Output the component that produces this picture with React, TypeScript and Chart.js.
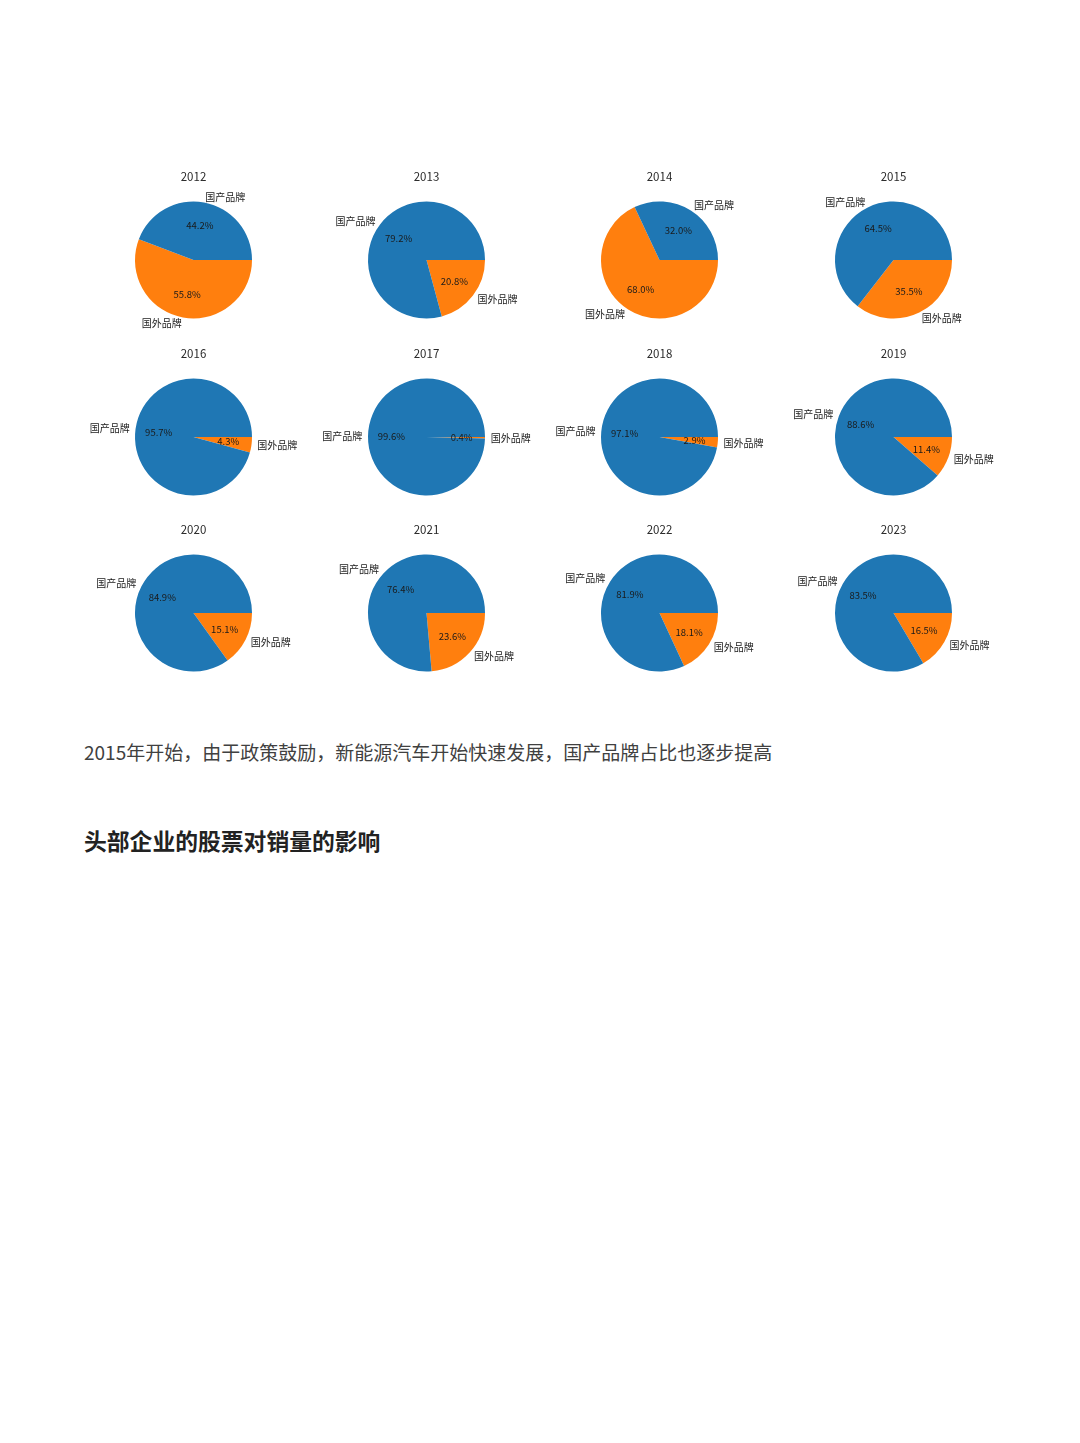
import { Chart, registerables, Plugin } from "chart.js";
import { useEffect, useRef } from "react";

Chart.register(...registerables);

// 国产品牌 / 国外品牌 share per year (%)
const years = ["2012", "2013", "2014", "2015", "2016", "2017", "2018", "2019", "2020", "2021", "2022", "2023"];
const domestic = [44.2, 79.2, 32.0, 64.5, 95.7, 99.6, 97.1, 88.6, 84.9, 76.4, 81.9, 83.5];
const foreign = [55.8, 20.8, 68.0, 35.5, 4.3, 0.4, 2.9, 11.4, 15.1, 23.6, 18.1, 16.5];
const sliceLabels = ["国外品牌", "国产品牌"];

const BLUE = "#1f77b4";
const ORANGE = "#ff7f0e";

// draws matplotlib-like labels (1.1r) and autopct (0.6r) around each arc
const pieText: Plugin<"pie"> = {
  id: "pieText",
  afterDatasetsDraw(chart) {
    const ctx = chart.ctx;
    const meta = chart.getDatasetMeta(0);
    const values = chart.data.datasets[0].data as number[];
    const total = values.reduce((a, b) => a + b, 0);
    ctx.save();
    meta.data.forEach((el: any, i) => {
      const mid = (el.startAngle + el.endAngle) / 2;
      const r = el.outerRadius;
      const cx = Math.cos(mid);
      const cy = Math.sin(mid);
      ctx.fillStyle = "#1a1a1a";
      ctx.textBaseline = "middle";
      ctx.font = '10px "Noto Sans CJK SC"';
      ctx.textAlign = cx > 0 ? "left" : "right";
      ctx.fillText(String(chart.data.labels![i]), el.x + 1.1 * r * cx, el.y + 1.1 * r * cy);
      ctx.font = '9.5px "Noto Sans CJK SC"';
      ctx.textAlign = "center";
      ctx.fillText(((values[i] / total) * 100).toFixed(1) + "%", el.x + 0.6 * r * cx, el.y + 0.6 * r * cy);
    });
    const first: any = meta.data[0];
    ctx.font = '11.5px "Noto Sans CJK SC"';
    ctx.textAlign = "center";
    ctx.fillStyle = "#2a2a2a";
    ctx.fillText(String((chart.options.plugins as any).yearTitle), first.x, first.y - 83);
    ctx.restore();
  },
};

const YearPie = ({ idx }: { idx: number }) => {
  const ref = useRef<HTMLCanvasElement | null>(null);

  useEffect(() => {
    if (!ref.current) return;
    const c = new Chart(ref.current, {
      type: "pie",
      data: {
        labels: sliceLabels,
        datasets: [
          {
            data: [foreign[idx], domestic[idx]],
            backgroundColor: [ORANGE, BLUE],
            borderWidth: 0,
          },
        ],
      },
      options: {
        animation: false,
        responsive: true,
        maintainAspectRatio: false,
        rotation: 90,
        layout: { padding: { left: 58, right: 58, top: 41.5, bottom: 17.5 } },
        plugins: {
          legend: { display: false },
          tooltip: { enabled: false },
          yearTitle: years[idx],
        } as any,
      },
      plugins: [pieText],
    });
    return () => c.destroy();
  }, [idx]);

  return (
    <div style={{ position: "relative", width: 233, height: 176 }}>
      <canvas ref={ref}></canvas>
    </div>
  );
};

export default function App() {
  return (
    <div style={{ paddingTop: 152, paddingLeft: 69, height: 1420, boxSizing: "border-box", background: "#fff" }}>
      <div
        style={{
          display: "grid",
          gridTemplateColumns: "repeat(4, 233.2px)",
          gridTemplateRows: "repeat(3, 176.5px)",
        }}
      >
        {years.map((y, i) => (
          <YearPie key={y} idx={i} />
        ))}
      </div>
      <div
        style={{
          marginTop: 48.5,
          marginLeft: 7,
          fontFamily: '"Noto Sans CJK SC", sans-serif',
          fontSize: 19,
          lineHeight: "28px",
          color: "#404040",
          whiteSpace: "nowrap",
        }}
      >
        2015年开始，由于政策鼓励，新能源汽车开始快速发展，国产品牌占比也逐步提高
      </div>
      <div
        style={{
          marginTop: 59,
          marginLeft: 7,
          fontFamily: '"Noto Sans CJK SC", sans-serif',
          fontSize: 22.8,
          fontWeight: 700,
          lineHeight: "32px",
          color: "#222",
          whiteSpace: "nowrap",
        }}
      >
        头部企业的股票对销量的影响
      </div>
    </div>
  );
}
